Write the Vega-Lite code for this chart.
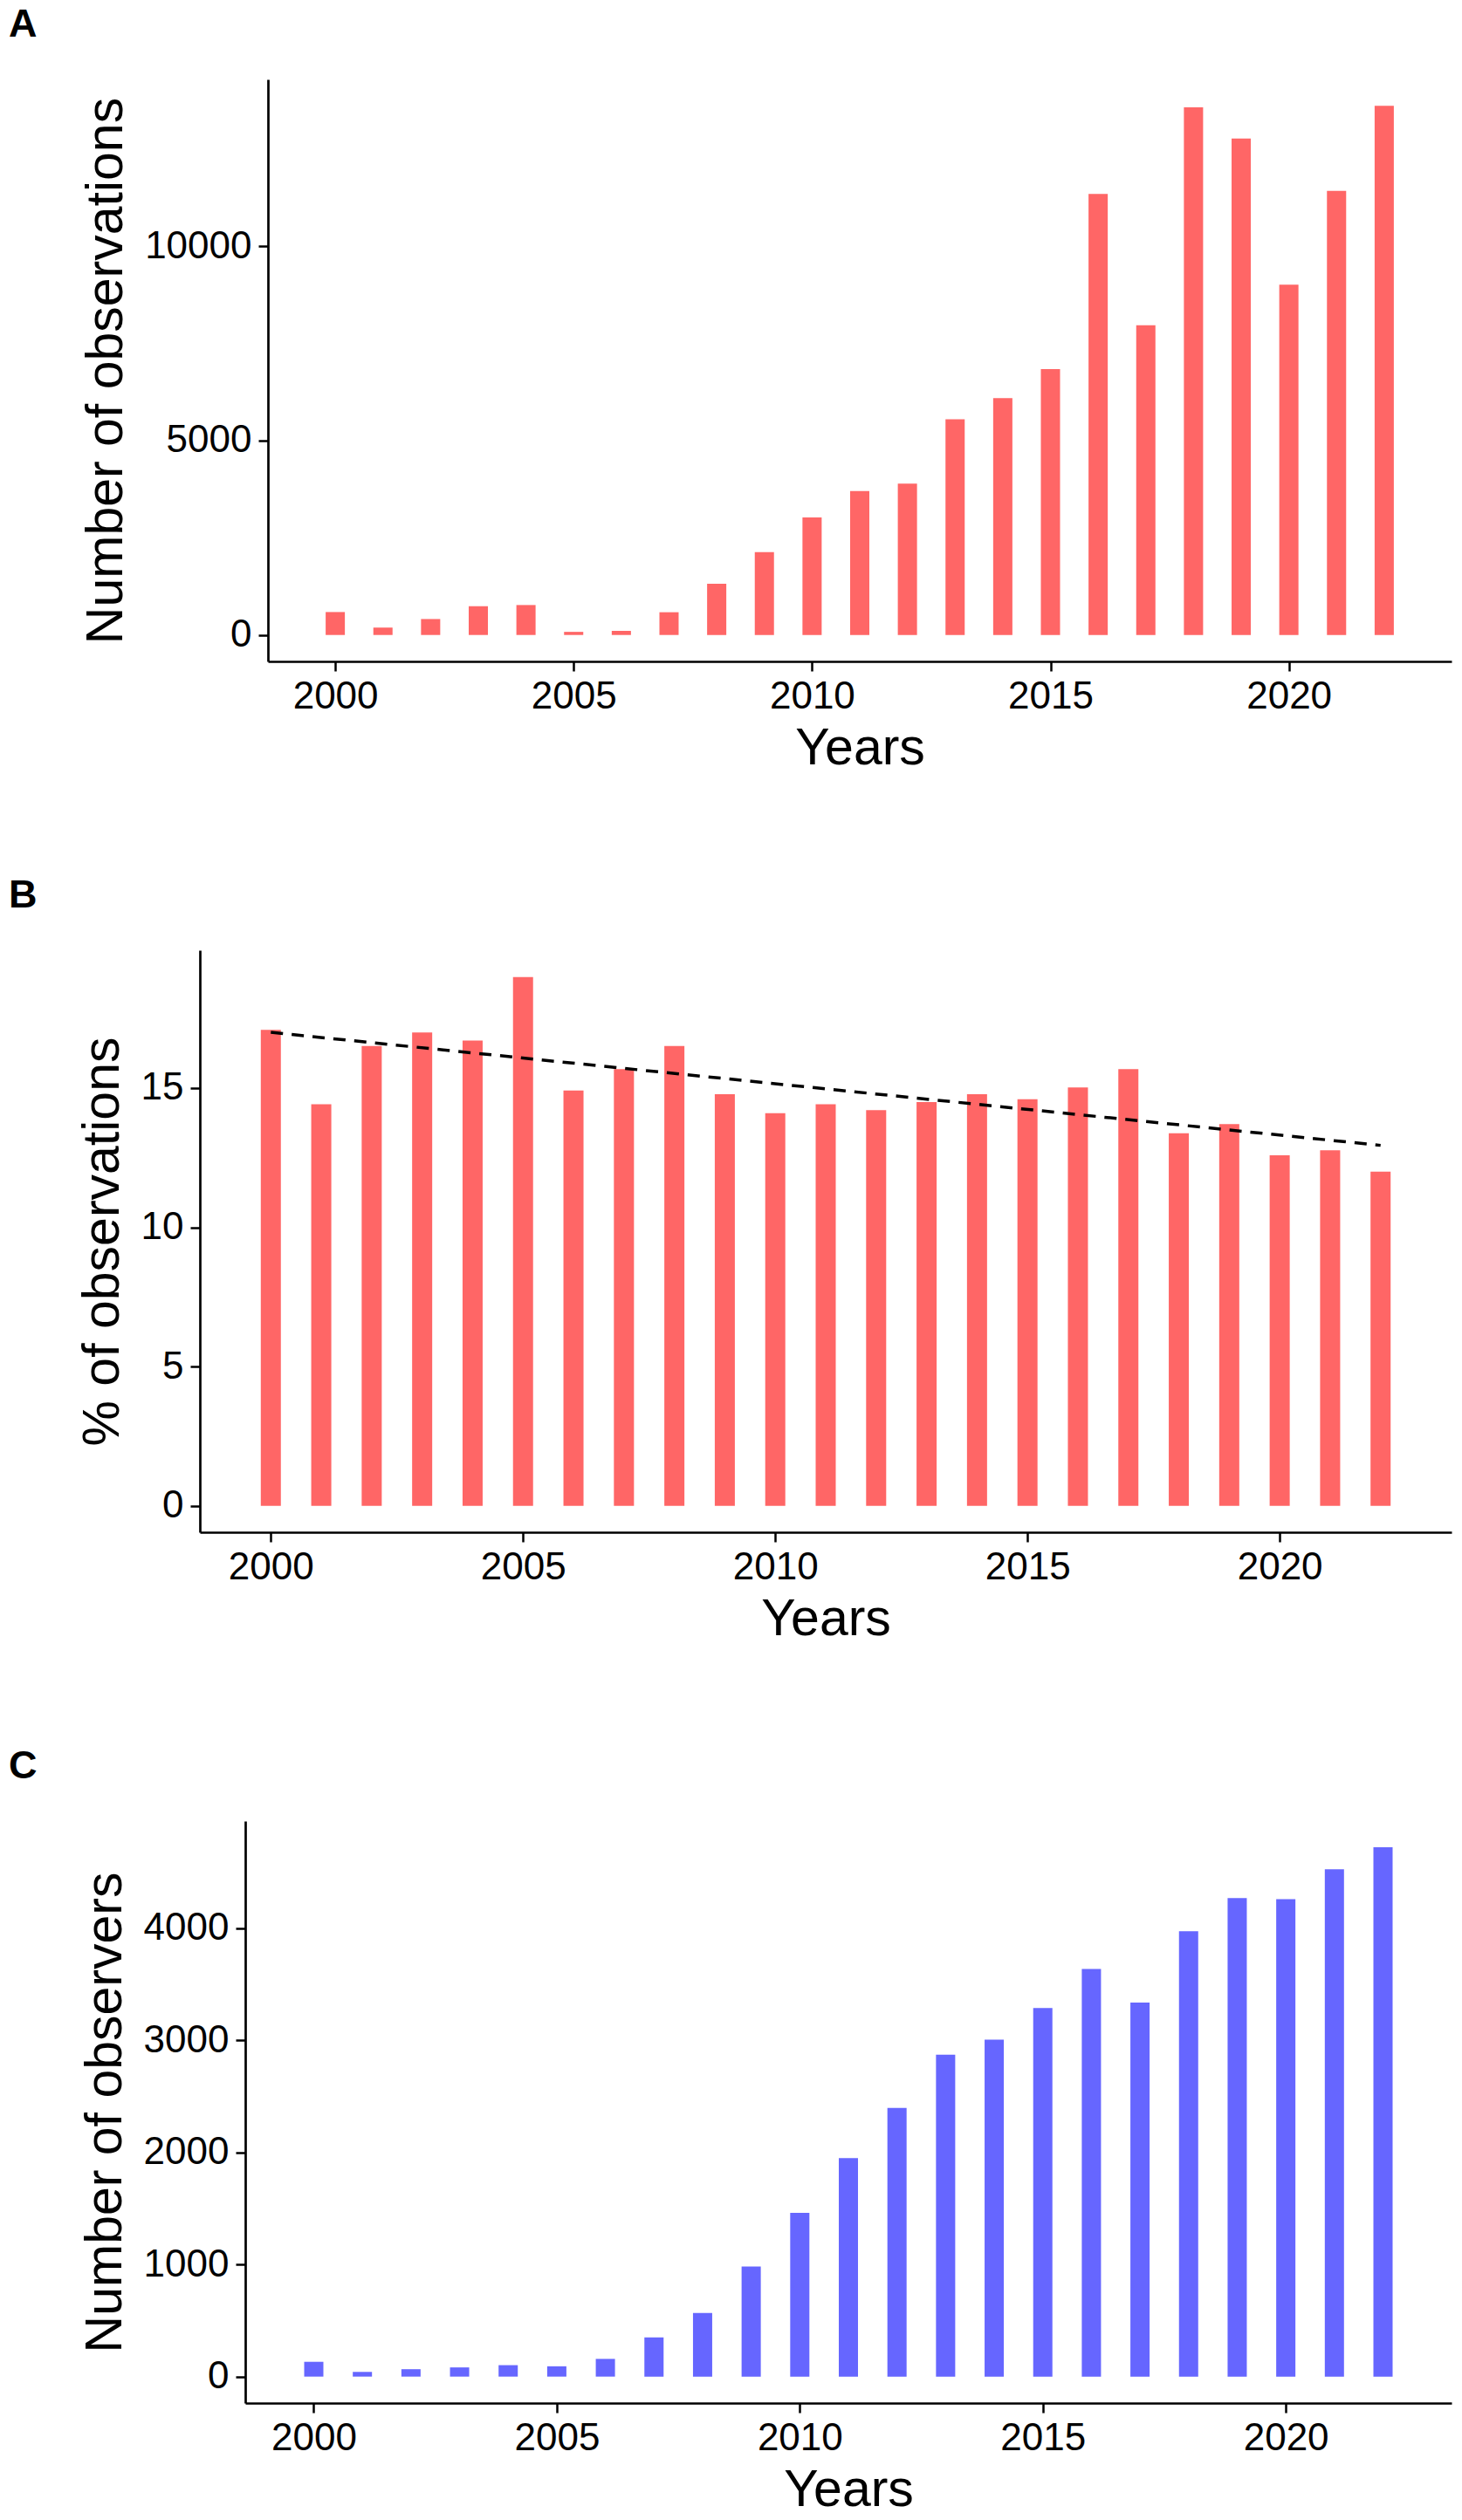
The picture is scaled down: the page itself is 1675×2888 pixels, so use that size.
{
  "$schema": "https://vega.github.io/schema/vega-lite/v6.json",
  "background": "white",
  "padding": {"left": 10, "top": 6, "right": 5, "bottom": 5},
  "data": {
    "values": [
      {"year": 2000, "obs": 590, "pct": 17.09, "observers": 132},
      {"year": 2001, "obs": 190, "pct": 14.42, "observers": 42},
      {"year": 2002, "obs": 410, "pct": 16.51, "observers": 66},
      {"year": 2003, "obs": 740, "pct": 17.0, "observers": 82},
      {"year": 2004, "obs": 770, "pct": 16.71, "observers": 102},
      {"year": 2005, "obs": 80, "pct": 18.99, "observers": 92},
      {"year": 2006, "obs": 105, "pct": 14.91, "observers": 158},
      {"year": 2007, "obs": 585, "pct": 15.68, "observers": 350},
      {"year": 2008, "obs": 1316, "pct": 16.51, "observers": 567},
      {"year": 2009, "obs": 2130, "pct": 14.78, "observers": 982},
      {"year": 2010, "obs": 3026, "pct": 14.1, "observers": 1461},
      {"year": 2011, "obs": 3704, "pct": 14.42, "observers": 1949},
      {"year": 2012, "obs": 3894, "pct": 14.21, "observers": 2396},
      {"year": 2013, "obs": 5550, "pct": 14.5, "observers": 2871},
      {"year": 2014, "obs": 6092, "pct": 14.78, "observers": 3005},
      {"year": 2015, "obs": 6839, "pct": 14.6, "observers": 3286},
      {"year": 2016, "obs": 11343, "pct": 15.02, "observers": 3636},
      {"year": 2017, "obs": 7965, "pct": 15.68, "observers": 3336},
      {"year": 2018, "obs": 13569, "pct": 13.38, "observers": 3972},
      {"year": 2019, "obs": 12768, "pct": 13.71, "observers": 4267},
      {"year": 2020, "obs": 9010, "pct": 12.59, "observers": 4258},
      {"year": 2021, "obs": 11425, "pct": 12.77, "observers": 4525},
      {"year": 2022, "obs": 13609, "pct": 12.0, "observers": 4720}
    ]
  },
  "spacing": 117,
  "vconcat": [
    {
      "width": 1434,
      "height": 667,
      "title": {"text": "A", "anchor": "start", "frame": "group", "dx": -219, "offset": 40, "fontSize": 45, "fontWeight": "bold", "font": "Liberation Sans", "color": "black"},
      "mark": {"type": "bar", "color": "#FF6666", "width": 22},
      "encoding": {
        "x": {"field": "year", "type": "quantitative", "scale": {"domain": [1998.68, 2023.32], "range": [78, 1434], "nice": false, "zero": false}, "axis": {"values": [2000, 2005, 2010, 2015, 2020], "format": "d", "title": "Years"}},
        "y": {"field": "obs", "type": "quantitative", "scale": {"domain": [-680, 14290], "nice": false, "zero": false}, "axis": {"values": [0, 5000, 10000], "format": "d", "title": "Number of observations", "offset": -78}},
        "y2": {"datum": 0}
      }
    },
    {
      "width": 1434,
      "height": 667,
      "title": {"text": "B", "anchor": "start", "frame": "group", "dx": -219, "offset": 40, "fontSize": 45, "fontWeight": "bold", "font": "Liberation Sans", "color": "black"},
      "encoding": {
        "x": {"field": "year", "type": "quantitative", "scale": {"domain": [1998.68, 2023.32], "nice": false, "zero": false}, "axis": {"values": [2000, 2005, 2010, 2015, 2020], "format": "d", "title": "Years"}}
      },
      "layer": [
        {
          "mark": {"type": "bar", "color": "#FF6666", "width": 23},
          "encoding": {
            "y": {"field": "pct", "type": "quantitative", "scale": {"domain": [-0.95, 19.95], "nice": false, "zero": false}, "axis": {"values": [0, 5, 10, 15], "format": "d", "title": "% of observations"}},
            "y2": {"datum": 0}
          }
        },
        {
          "transform": [{"regression": "pct", "on": "year"}],
          "mark": {"type": "line", "color": "black", "strokeDash": [14, 10], "strokeWidth": 3.5},
          "encoding": {
            "y": {"field": "pct", "type": "quantitative", "scale": {"domain": [-0.95, 19.95], "nice": false, "zero": false}, "axis": {"values": [0, 5, 10, 15], "format": "d", "title": "% of observations"}}
          }
        }
      ]
    },
    {
      "width": 1434,
      "height": 667,
      "title": {"text": "C", "anchor": "start", "frame": "group", "dx": -219, "offset": 40, "fontSize": 45, "fontWeight": "bold", "font": "Liberation Sans", "color": "black"},
      "mark": {"type": "bar", "color": "#6666FF", "width": 22},
      "encoding": {
        "x": {"field": "year", "type": "quantitative", "scale": {"domain": [1998.68, 2023.32], "range": [52, 1434], "nice": false, "zero": false}, "axis": {"values": [2000, 2005, 2010, 2015, 2020], "format": "d", "title": "Years"}},
        "y": {"field": "observers", "type": "quantitative", "scale": {"domain": [-236, 4954], "nice": false, "zero": false}, "axis": {"values": [0, 1000, 2000, 3000, 4000], "format": "d", "title": "Number of observers", "offset": -52}},
        "y2": {"datum": 0}
      }
    }
  ],
  "config": {
    "view": {"stroke": null},
    "font": "Liberation Sans",
    "axis": {
      "grid": false,
      "domainColor": "black",
      "domainWidth": 2.7,
      "tickColor": "black",
      "tickWidth": 2.5,
      "tickSize": 11,
      "labelFont": "Liberation Sans",
      "labelFontSize": 44,
      "labelColor": "black",
      "titleFont": "Liberation Sans",
      "titleFontSize": 59,
      "titleFontWeight": "normal",
      "titleColor": "black"
    },
    "axisX": {"labelPadding": 7, "titlePadding": 8},
    "axisY": {"labelPadding": 8, "titlePadding": 14}
  }
}
